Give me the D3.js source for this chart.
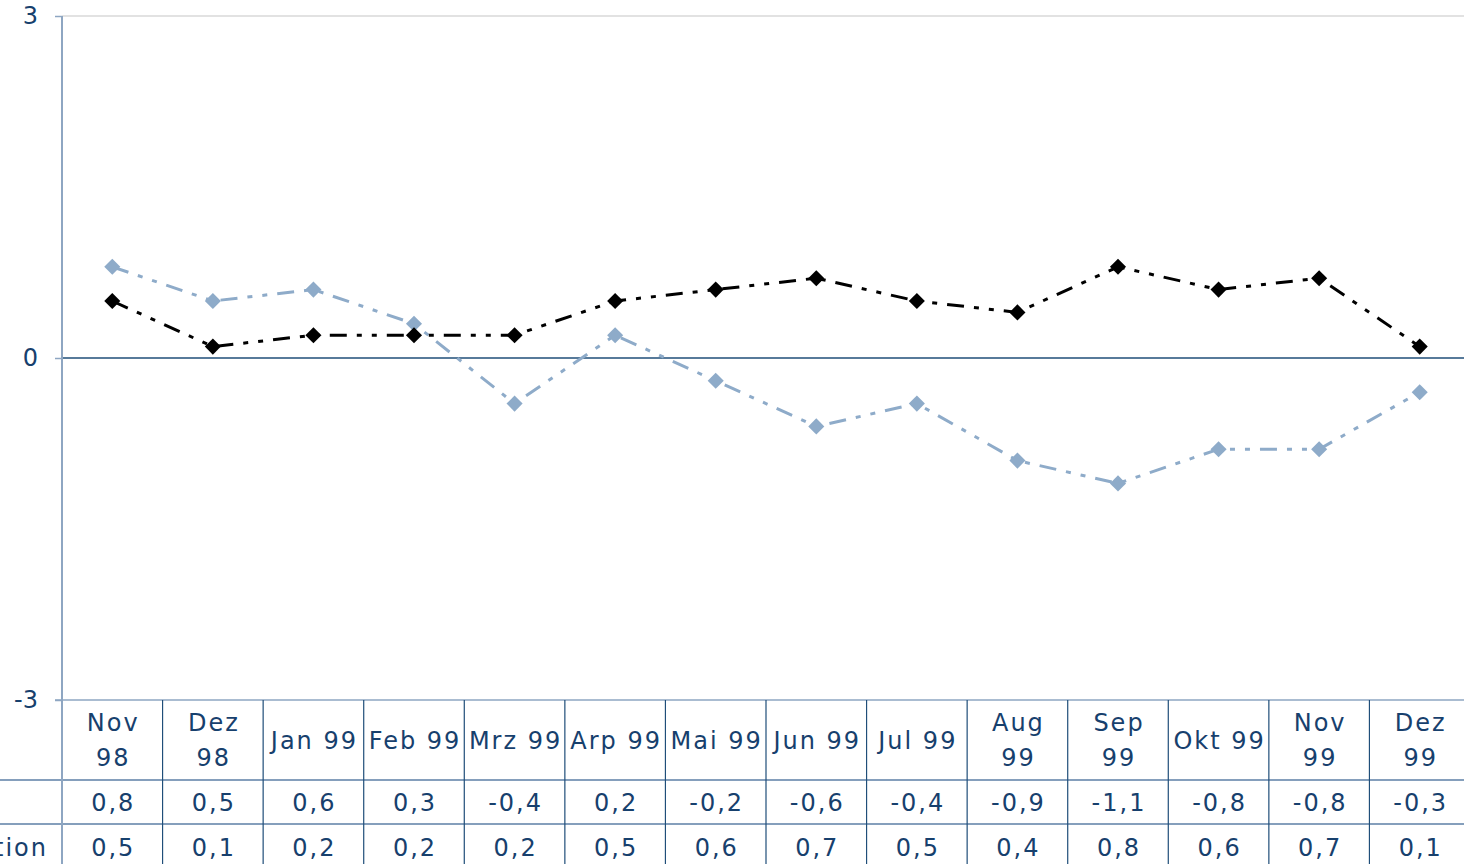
<!DOCTYPE html>
<html>
<head>
<meta charset="utf-8">
<script src="https://cdn.jsdelivr.net/npm/d3@7"></script>
<style>
  html, body { margin: 0; padding: 0; background: #fff; overflow: hidden; }
  svg { display: block; }
  text { font-family: "DejaVu Sans", Verdana, sans-serif; fill: #17406d; }
</style>
</head>
<body>
<script>
// Months shown along the axis and in the table header ("\n" marks a wrapped label)
const categories = ["Nov\n98", "Dez\n98", "Jan 99", "Feb 99", "Mrz 99", "Arp 99", "Mai 99",
                    "Jun 99", "Jul 99", "Aug\n99", "Sep\n99", "Okt 99", "Nov\n99", "Dez\n99"];
// Light blue series (first table row)
const series1Name = "";
const series1 = [0.8, 0.5, 0.6, 0.3, -0.4, 0.2, -0.2, -0.6, -0.4, -0.9, -1.1, -0.8, -0.8, -0.3];
// Black series (second table row)
const series2Name = "Inflation";
const series2 = [0.5, 0.1, 0.2, 0.2, 0.2, 0.5, 0.6, 0.7, 0.5, 0.4, 0.8, 0.6, 0.7, 0.1];
// Value axis ticks
const yTicks = [-3, 0, 3];

const W = 1464, H = 864;
const svg = d3.select("body").append("svg").attr("width", W).attr("height", H);

const x = d3.scaleBand().domain(d3.range(categories.length)).range([62, 1470]).padding(0);
const y = d3.scaleLinear().domain([-3, 3]).range([700, 16]);
const cx = i => x(i) + x.bandwidth() / 2;
const fmt = v => d3.format(".1f")(v).replace(".", ",").replace("−", "-");

const tableTop = 700, row1Top = 780, row2Top = 824, tableBottom = 880;
const gridCol = "#d9d9d9", axisCol = "#8ea6c2", tableCol = "#1f4e79";

// top gridline
svg.append("line").attr("x1", 62).attr("x2", W).attr("y1", y(3)).attr("y2", y(3))
  .attr("stroke", gridCol).attr("stroke-width", 1.5);

// zero line
svg.append("line").attr("x1", 62).attr("x2", W).attr("y1", y(0)).attr("y2", y(0))
  .attr("stroke", tableCol).attr("stroke-width", 1.5);

// value axis labels and ticks
const yAxis = d3.axisLeft(y).tickValues(yTicks).tickSize(7).tickPadding(17)
  .tickFormat(d => String(d));
const yg = svg.append("g").attr("transform", "translate(62,0)").call(yAxis);
yg.select(".domain").remove();
yg.selectAll(".tick line").attr("stroke", axisCol).attr("stroke-width", 1.5);
yg.selectAll(".tick text").style("font-size", "24px").attr("fill", "#17406d");

// data table grid
const tg = svg.append("g");
tg.append("line").attr("x1", 55).attr("x2", W).attr("y1", tableTop).attr("y2", tableTop)
  .attr("stroke", axisCol).attr("stroke-width", 1.5);
[row1Top, row2Top].forEach(yy => {
  tg.append("line").attr("x1", 0).attr("x2", W).attr("y1", yy).attr("y2", yy)
    .attr("stroke", "#5c7fa6").attr("stroke-width", 1.5);
});
tg.selectAll("line.col").data(d3.range(1, categories.length)).join("line")
  .attr("class", "col")
  .attr("x1", i => x(i)).attr("x2", i => x(i))
  .attr("y1", tableTop).attr("y2", tableBottom)
  .attr("stroke", tableCol).attr("stroke-width", 1.2);

// value axis line (runs down through the table)
svg.append("line").attr("x1", 62).attr("x2", 62).attr("y1", y(3)).attr("y2", H)
  .attr("stroke", axisCol).attr("stroke-width", 2);

// header labels
const hdr = svg.append("g").style("font-size", "24px").style("letter-spacing", "2px");
categories.forEach((c, i) => {
  const lines = c.split("\n");
  const mid = (tableTop + row1Top) / 2;
  const t = hdr.append("text").attr("text-anchor", "middle")
    .attr("x", cx(i)).attr("y", mid - (lines.length - 1) * 17.5);
  lines.forEach((ln, k) => {
    t.append("tspan").attr("x", cx(i) + 1).attr("dy", k === 0 ? "0.36em" : "35px").text(ln);
  });
});

// table values
function valueRow(vals, top, bottom, name) {
  const g = svg.append("g").style("font-size", "24px").style("letter-spacing", "2px");
  const mid = (top + bottom) / 2;
  g.selectAll("text.v").data(vals).join("text").attr("class", "v")
    .attr("text-anchor", "middle").attr("x", (d, i) => cx(i) + 1).attr("y", mid)
    .attr("dy", "0.36em").text(d => fmt(d));
  if (name) g.append("text").attr("text-anchor", "end").attr("x", 48).attr("y", mid)
    .attr("dy", "0.36em").text(name);
}
valueRow(series1, row1Top, row2Top, series1Name);
valueRow(series2, row2Top, row2Top + 46, series2Name);

// series lines and diamond markers
const line = d3.line().x((d, i) => cx(i)).y(d => y(d));
const diamond = d3.symbol().type(d3.symbolDiamond2).size(165);
function drawSeries(vals, color) {
  svg.append("path").datum(vals).attr("d", line).attr("fill", "none")
    .attr("stroke", color).attr("stroke-width", 3)
    .attr("stroke-dasharray", "17,10,5,10,5,10");
  svg.append("g").selectAll("path").data(vals).join("path")
    .attr("d", diamond).attr("fill", color)
    .attr("transform", (d, i) => `translate(${cx(i)},${y(d)})`);
}
drawSeries(series1, "#8eabc9");
drawSeries(series2, "#000000");
</script>
</body>
</html>
